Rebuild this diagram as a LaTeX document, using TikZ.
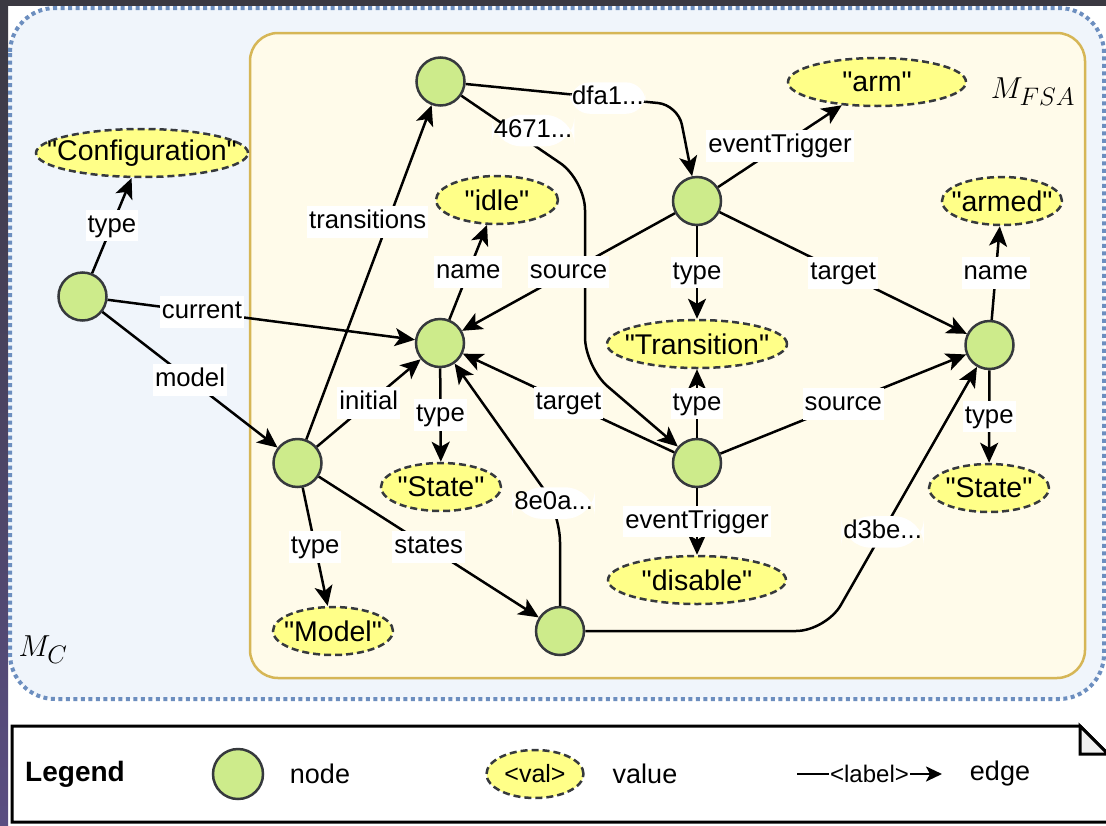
\documentclass[tikz,border=0pt]{standalone}
\usepackage{fontspec}
\setmainfont{Liberation Sans}[Ligatures=TeXOff]
\usetikzlibrary{arrows.meta,shapes.geometric}
\definecolor{nodegreen}{HTML}{CDEB8B}
\definecolor{nodestroke}{HTML}{36393D}
\definecolor{valyellow}{HTML}{FFFF88}
\definecolor{outerfill}{HTML}{F0F5FB}
\definecolor{outerline}{HTML}{6C8EBF}
\definecolor{innerfill}{HTML}{FFFBEA}
\definecolor{innerline}{HTML}{D6B656}
\definecolor{darkbg}{HTML}{3B3942}
\definecolor{purplebg}{HTML}{5A4E82}
\definecolor{foldgray}{HTML}{F0F0F0}
\newcommand{\valtxt}[1]{\makebox[0pt]{#1}}
\begin{document}
\begin{tikzpicture}[x=1pt,y=-1pt,
 gnode/.style={circle, draw=nodestroke, line width=2.5pt, fill=nodegreen, minimum size=48pt, inner sep=0pt},
 vnode/.style={ellipse, draw=nodestroke, dash pattern=on 7pt off 4pt, line width=2.5pt, fill=valyellow, minimum height=48pt, inner sep=0pt, font=\fontsize{28.5}{33}\selectfont},
 conn/.style={line width=2.5pt, -{Stealth[length=20pt,width=18pt,inset=5pt]}},
 lbl/.style={fill=white, inner xsep=2pt, inner ysep=4pt, font=\fontsize{25.7}{30}\selectfont, text height=18.5pt, text depth=5pt},
 legtxt/.style={font=\fontsize{27}{32}\selectfont},
 mathlbl/.style={font=\fontsize{24.88}{30}\selectfont, scale=1.22, inner sep=0pt},
]
\useasboundingbox (0,0) rectangle (1106,825);
\fill[white] (0,0) rectangle (1106,825);
\fill[darkbg] (0,0) rectangle (1106,6);
\shade[top color=darkbg, bottom color=purplebg] (0,0) rectangle (8,825);

% containers
\draw[outerline, fill=outerfill, line width=4pt, dash pattern=on 4pt off 3.5pt, rounded corners=45pt] (10,8) rectangle (1104,699);
\draw[innerline, fill=innerfill, line width=2.5pt, rounded corners=28pt] (250,33) rectangle (1085,678);
\node[mathlbl] (mfsa) at (1033,92) {$M_{FSA}$};
\node[mathlbl] (mc) at (43,650) {$M_C$};

% graph nodes
\node[gnode] (C) at (82.5,296.5) {};
\node[gnode] (M) at (297.5,463) {};
\node[gnode] (T) at (440.5,81.5) {};
\node[gnode] (A) at (697,201) {};
\node[gnode] (S1) at (440,343) {};
\node[gnode] (S2) at (989.5,345) {};
\node[gnode] (B) at (697,463) {};
\node[gnode] (D) at (560,631) {};

% values
\node[vnode, minimum width=212pt] (vConf) at (142,153) {\valtxt{"Configuration"}};
\node[vnode, minimum width=178pt] (vArm) at (877,82) {\valtxt{"arm"}};
\node[vnode, minimum width=122pt] (vIdle) at (497,200) {\valtxt{"idle"}};
\node[vnode, minimum width=120pt] (vArmed) at (1002,201) {\valtxt{"armed"}};
\node[vnode, minimum width=180pt] (vTrans) at (697,344) {\valtxt{"Transition"}};
\node[vnode, minimum width=120pt] (vState1) at (441,487) {\valtxt{"State"}};
\node[vnode, minimum width=120pt] (vState2) at (989,488) {\valtxt{"State"}};
\node[vnode, minimum width=178pt] (vDis) at (697,580) {\valtxt{"disable"}};
\node[vnode, minimum width=120pt] (vModel) at (333,631) {\valtxt{"Model"}};

% edges
\draw[conn] (C) -- node[lbl]{type} (vConf);
\draw[conn] (C) -- node[lbl,pos=0.307]{current} (S1);
\draw[conn] (C) -- node[lbl]{model} (M);
\draw[conn] (M) -- node[lbl,pos=0.65,xshift=-20pt]{transitions} (T);
\draw[conn] (M) -- node[lbl]{initial} (S1);
\draw[conn] (M) -- node[lbl]{type} (vModel);
\draw[conn] (M) -- node[lbl]{states} (D);
\draw[conn, rounded corners=20pt] (T) -- node[lbl,pos=0.67]{dfa1...} (678,105) -- (A);
\draw[conn, rounded corners=30pt] (T) -- node[lbl,pos=0.58,yshift=14pt]{4671...} (585,180) -- (585,367) -- (B);
\draw[conn] (A) -- node[lbl]{eventTrigger} (vArm);
\draw[conn] (A) -- node[lbl]{source} (S1);
\draw[conn] (A) -- node[lbl]{type} (vTrans);
\draw[conn] (A) -- node[lbl]{target} (S2);
\draw[conn] (S1) -- node[lbl]{name} (vIdle);
\draw[conn] (S1) -- node[lbl]{type} (vState1);
\draw[conn] (B) -- node[lbl]{target} (S1);
\draw[conn] (B) -- node[lbl]{type} (vTrans);
\draw[conn] (B) -- node[lbl]{source} (S2);
\draw[conn] (B) -- node[lbl]{eventTrigger} (vDis);
\draw[conn] (S2) -- node[lbl]{name} (vArmed);
\draw[conn] (S2) -- node[lbl]{type} (vState2);
\draw[conn, rounded corners=30pt] (D) -- (560,512) -- node[lbl,pos=0.06]{8e0a...} (S1);
\draw[conn, rounded corners=30pt] (D) -- (826,631) -- node[lbl,pos=0.375]{d3be...} (S2);

% legend
\draw[line width=3pt, fill=white] (12,726) -- (1080,726) -- (1108,754) -- (1108,822) -- (12,822) -- cycle;
\draw[line width=3pt, fill=foldgray] (1080,726) -- (1108,754) -- (1080,754) -- cycle;
\node[font=\bfseries\fontsize{28}{32}\selectfont] (lg) at (75,774) {Legend};
\node[gnode, minimum size=50pt] (lnode) at (238,774) {};
\node[legtxt] (lnodet) at (320,774) {node};
\node[vnode, minimum width=97pt, font=\fontsize{25}{30}\selectfont] (lval) at (535,774) {\valtxt{<val>}};
\node[legtxt] (lvalt) at (645,774) {value};
\coordinate (la) at (797,774);
\coordinate (lb) at (942,774);
\draw[line width=2.5pt, -{Stealth[length=16pt,width=15pt,inset=4pt]}] (la) -- node[fill=white, inner sep=1pt, font=\fontsize{24}{28}\selectfont]{<label>} (lb);
\node[legtxt] (ledget) at (1000,774) {edge};
\end{tikzpicture}
\end{document}
